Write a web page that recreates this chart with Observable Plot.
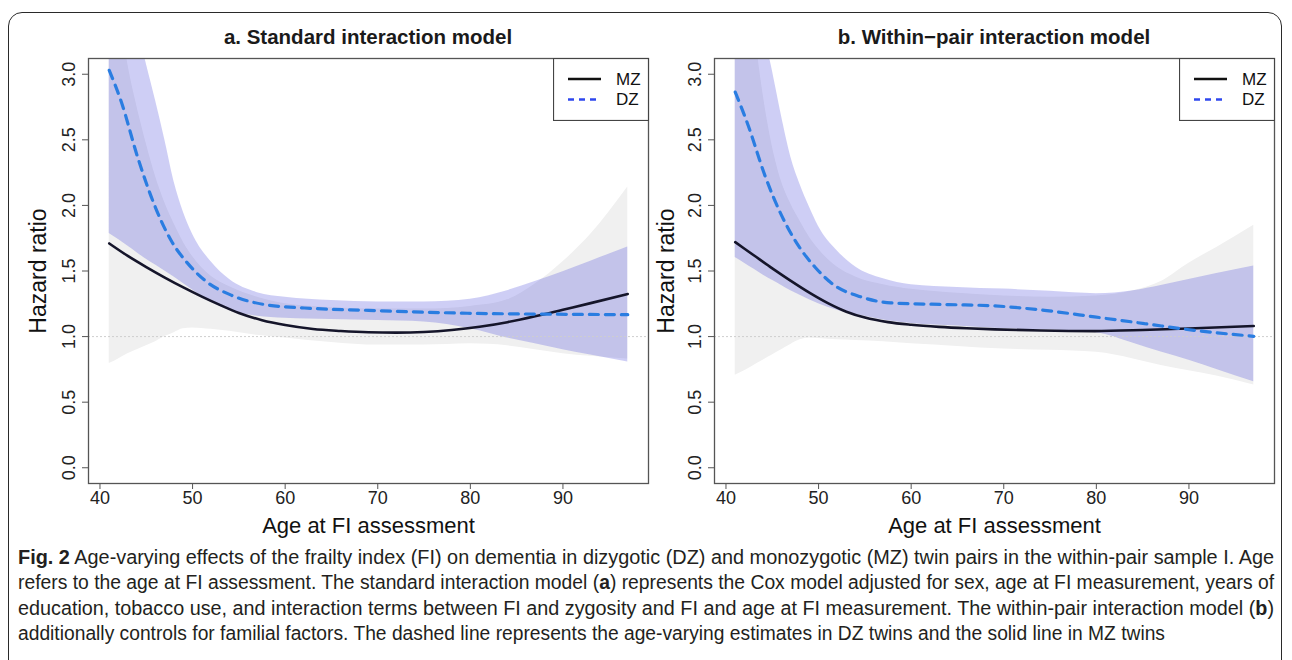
<!DOCTYPE html>
<html><head><meta charset="utf-8">
<script src="https://cdn.jsdelivr.net/npm/d3@7"></script>
<script src="https://cdn.jsdelivr.net/npm/@observablehq/plot@0.6"></script>
<style>
html,body{margin:0;padding:0;background:#fff;}
body{width:1292px;height:660px;overflow:hidden;position:relative;font-family:"Liberation Sans",Arial,sans-serif;color:#222;}
.border{position:absolute;left:8px;top:12px;width:1274px;height:720px;border:1.5px solid #2a2a2a;border-radius:14px;box-sizing:border-box;}
.title{position:absolute;top:25px;width:560px;font-weight:bold;font-size:20.5px;line-height:24px;text-align:center;color:#1a1a1a;}
.panel{position:absolute;top:50px;}
.legend{position:absolute;top:58px;}
.caption{position:absolute;left:18px;top:545px;width:1260px;font-family:"Liberation Sans",Arial,sans-serif;font-size:19.5px;line-height:25.4px;color:#231f20;}
.caption .cl{white-space:nowrap;width:max-content;transform-origin:0 0;}
</style>
</head><body>
<div class="border"></div>
<div class="title" style="left:88px">a. Standard interaction model</div>
<div class="title" style="left:714px">b. Within−pair interaction model</div>
<div id="pa" class="panel" style="left:0px"></div>
<div id="pb" class="panel" style="left:646px"></div>
<div class="caption">
<div class="cl" data-w="1256"><b>Fig. 2</b> Age-varying effects of the frailty index (FI) on dementia in dizygotic (DZ) and monozygotic (MZ) twin pairs in the within-pair sample I. Age</div>
<div class="cl" data-w="1256">refers to the age at FI assessment. The standard interaction model (<b>a</b>) represents the Cox model adjusted for sex, age at FI measurement, years of</div>
<div class="cl" data-w="1256">education, tobacco use, and interaction terms between FI and zygosity and FI and age at FI measurement. The within-pair interaction model (<b>b</b>)</div>
<div class="cl" data-w="1147">additionally controls for familial factors. The dashed line represents the age-varying estimates in DZ twins and the solid line in MZ twins</div>
</div>
<script>
// ---------- data ----------
const xTicks = [40, 50, 60, 70, 80, 90];
const yTicks = [0, 0.5, 1, 1.5, 2, 2.5, 3];
const refLine = [1];
const seriesNames = ["MZ", "DZ"];

// Panel a: Standard interaction model
const a_mzAge = [41, 43, 45, 47, 49, 51, 53, 55, 57.5, 60, 63, 66, 69, 72, 75, 78, 81, 84, 87, 90, 93, 97];
const a_mzHR  = [1.71, 1.615, 1.53, 1.45, 1.375, 1.305, 1.24, 1.18, 1.125, 1.088, 1.058, 1.043, 1.033, 1.03, 1.035, 1.05, 1.075, 1.11, 1.155, 1.205, 1.255, 1.325];
const a_dzAge = [41, 42.3, 44.1, 45.9, 47.7, 49.5, 51.3, 54.2, 57.8, 62.1, 69, 79.7, 90.5, 97];
const a_dzHR  = [3.03, 2.79, 2.36, 2.0, 1.73, 1.556, 1.43, 1.315, 1.244, 1.218, 1.20, 1.178, 1.17, 1.167];
const bandAge = [41, 42, 43, 44, 45, 46, 47, 48, 49, 50, 52, 54, 57, 60, 65, 70, 75, 80, 84, 87, 90, 93, 97];
const a_mzLo = [0.794, 0.83, 0.87, 0.90, 0.93, 0.96, 1.0, 1.03, 1.06, 1.065, 1.055, 1.04, 1.01, 0.99, 0.955, 0.935, 0.935, 0.945, 0.93, 0.90, 0.87, 0.85, 0.83];
const a_mzHi = [4.1, 3.55, 3.08, 2.75, 2.47, 2.22, 2.02, 1.86, 1.72, 1.61, 1.46, 1.38, 1.30, 1.25, 1.22, 1.21, 1.21, 1.23, 1.28, 1.40, 1.57, 1.78, 2.14];
const a_dzLo = [1.785, 1.74, 1.69, 1.64, 1.59, 1.545, 1.50, 1.455, 1.405, 1.355, 1.265, 1.20, 1.155, 1.14, 1.13, 1.122, 1.112, 1.06, 0.99, 0.945, 0.90, 0.86, 0.807];
const a_dzHi = [4.9, 4.3, 3.8, 3.38, 3.08, 2.80, 2.50, 2.18, 1.95, 1.78, 1.57, 1.435, 1.335, 1.30, 1.275, 1.264, 1.264, 1.285, 1.35, 1.42, 1.495, 1.575, 1.683];

// Panel b: Within-pair interaction model
const b_mzAge = [41, 43, 45, 47, 49, 51, 53, 55, 57.5, 60, 63, 66, 69, 74, 79.8, 85, 90, 97];
const b_mzHR  = [1.72, 1.62, 1.52, 1.425, 1.335, 1.255, 1.19, 1.145, 1.11, 1.09, 1.074, 1.063, 1.055, 1.046, 1.042, 1.05, 1.062, 1.081];
const b_dzAge = [41, 42.4, 44.2, 46, 47.8, 49.6, 51.7, 54.25, 57.8, 64, 69, 74.4, 79.8, 85.2, 90.55, 97];
const b_dzHR  = [2.864, 2.609, 2.229, 1.924, 1.695, 1.531, 1.391, 1.31, 1.257, 1.244, 1.234, 1.20, 1.15, 1.099, 1.048, 1.002];
const b_mzLo = [0.705, 0.74, 0.78, 0.82, 0.86, 0.90, 0.94, 0.975, 0.99, 0.985, 0.975, 0.97, 0.96, 0.945, 0.925, 0.905, 0.895, 0.88, 0.83, 0.78, 0.74, 0.70, 0.63];
const b_mzHi = [4.5, 3.95, 3.38, 2.85, 2.45, 2.18, 2.01, 1.88, 1.76, 1.665, 1.53, 1.455, 1.395, 1.36, 1.33, 1.31, 1.30, 1.31, 1.35, 1.42, 1.56, 1.68, 1.848];
const b_dzLo = [1.602, 1.56, 1.515, 1.47, 1.43, 1.39, 1.35, 1.315, 1.28, 1.25, 1.20, 1.17, 1.127, 1.10, 1.08, 1.06, 1.05, 1.03, 0.95, 0.883, 0.82, 0.75, 0.655];
const b_dzHi = [4.9, 4.3, 3.8, 3.36, 3.03, 2.68, 2.37, 2.16, 1.99, 1.84, 1.655, 1.53, 1.44, 1.395, 1.375, 1.362, 1.345, 1.327, 1.35, 1.39, 1.435, 1.48, 1.538];

// ---------- helpers ----------
const pts = (ages, vals) => ages.map((a, i) => ({age: a, hr: vals[i]}));
const band = (ages, lo, hi) => ages.map((a, i) => ({age: a, lo: lo[i], hi: hi[i]}));

const FONT = '"Liberation Sans", Arial, Helvetica, sans-serif';

function panel(o) {
  return Plot.plot({
    width: o.width, height: 490,
    marginLeft: o.ml, marginRight: o.mr, marginTop: 8, marginBottom: 57,
    x: {domain: [38.76, 99.24]},
    y: {domain: [-0.12, 3.12]},
    style: {fontFamily: FONT, fontSize: "18px", color: "#222", background: "transparent", overflow: "visible"},
    marks: [
      Plot.areaY(o.gray, {x: "age", y1: "lo", y2: "hi", fill: "#f0f0f0", curve: "monotone-x", clip: true}),
      Plot.areaY(o.blue, {x: "age", y1: "lo", y2: "hi", fill: "#3c3cd8", fillOpacity: 0.25, curve: "monotone-x", clip: true}),
      Plot.ruleY(refLine, {stroke: "#cfcfcf", strokeWidth: 1, strokeDasharray: "2,2"}),
      Plot.line(o.mz, {x: "age", y: "hr", stroke: "#15152a", strokeWidth: 2.6, curve: "monotone-x", clip: true}),
      Plot.line(o.dz, {x: "age", y: "hr", stroke: "#2a7de1", strokeWidth: 3.2, strokeDasharray: "9,7", curve: "monotone-x", clip: true}),
      Plot.frame({stroke: "#555", strokeWidth: 1.3}),
      Plot.axisX({ticks: xTicks, tickSize: 6, tickPadding: 2, fontSize: 18, stroke: "#555", label: null}),
      Plot.axisY({ticks: yTicks, tickSize: 6, tickPadding: 8, tickRotate: -90, tickFormat: d3.format(".1f"), fontSize: 18, stroke: "#555", label: null}),
      Plot.text(["Hazard ratio"], {text: d => d, frameAnchor: "left", dx: o.ylabDx, rotate: -90, textAnchor: "middle", lineAnchor: "middle", fontSize: 23, fill: "#111"}),
      Plot.text(["Age at FI assessment"], {text: d => d, frameAnchor: "bottom", dy: 42, textAnchor: "middle", lineAnchor: "middle", fontSize: 22, fill: "#111"})
    ]
  });
}

function legend(left) {
  const W = 95, H = 62;
  const svg = d3.create("svg").attr("width", W + 1).attr("height", H + 1)
    .attr("class", "legend").style("left", left + "px")
    .style("font-family", FONT);
  svg.append("rect").attr("x", 0.5).attr("y", 0.5).attr("width", W).attr("height", H)
    .attr("fill", "#fff").attr("stroke", "#444").attr("stroke-width", 1.2);
  const rows = [
    {name: seriesNames[0], y: 21, stroke: "#111", dash: null},
    {name: seriesNames[1], y: 41.5, stroke: "#2f48ee", dash: "6,5"}
  ];
  for (const r of rows) {
    svg.append("line").attr("x1", 15).attr("x2", 48).attr("y1", r.y).attr("y2", r.y)
      .attr("stroke", r.stroke).attr("stroke-width", 2.4).attr("stroke-dasharray", r.dash);
    svg.append("text").attr("x", 63).attr("y", r.y).attr("dy", "0.35em")
      .attr("font-size", 17).attr("fill", "#111").text(r.name);
  }
  return svg.node();
}

document.getElementById("pa").append(panel({
  width: 660, ml: 88, mr: 12, ylabDx: -50,
  gray: band(bandAge, a_mzLo, a_mzHi), blue: band(bandAge, a_dzLo, a_dzHi),
  mz: pts(a_mzAge, a_mzHR), dz: pts(a_dzAge, a_dzHR)
}));
document.getElementById("pb").append(panel({
  width: 646, ml: 68, mr: 18, ylabDx: -48,
  gray: band(bandAge, b_mzLo, b_mzHi), blue: band(bandAge, b_dzLo, b_dzHi),
  mz: pts(b_mzAge, b_mzHR), dz: pts(b_dzAge, b_dzHR)
}));
document.body.append(legend(553));
document.body.append(legend(1179));

// fit caption lines to the widths of the reference lines (condensed face)
for (const el of document.querySelectorAll(".caption .cl")) {
  const w = el.getBoundingClientRect().width;
  const target = +el.dataset.w;
  el.style.transform = `scaleX(${target / w})`;
}
</script>
</body></html>
